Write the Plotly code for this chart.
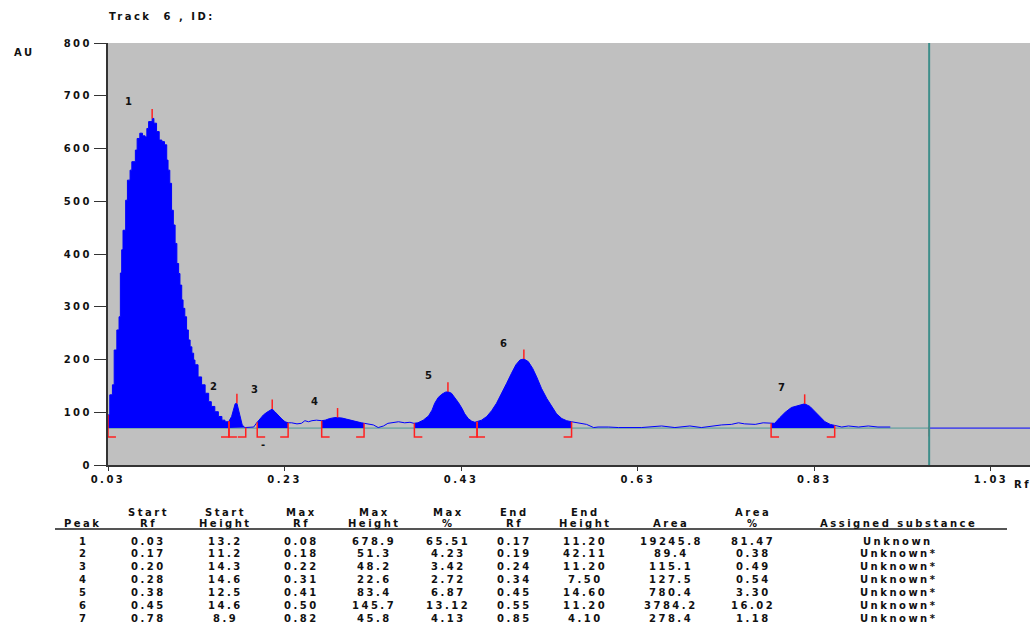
import numpy as np
import plotly.graph_objects as go

# ---------------------------------------------------------------------------
# Densitometric scan of track 6: position (Rf) vs. absorbance units (AU)
# ---------------------------------------------------------------------------
scan_rf = [
    0.030, 0.032, 0.035, 0.037, 0.040, 0.0425, 0.044, 0.0455, 0.047, 0.050,
    0.052, 0.055, 0.057, 0.061, 0.063, 0.066, 0.069, 0.072, 0.074, 0.076,
    0.080, 0.082, 0.085, 0.088, 0.091, 0.094, 0.0965, 0.098, 0.100, 0.102,
    0.104, 0.106, 0.108, 0.110, 0.1115, 0.1135, 0.115, 0.117, 0.119, 0.121,
    0.123, 0.125, 0.127, 0.1285, 0.132, 0.136, 0.140, 0.144, 0.147, 0.151,
    0.155, 0.159, 0.1625, 0.166,
    0.170, 0.172, 0.174, 0.176, 0.178, 0.180, 0.182, 0.185, 0.189, 0.195,
    0.198, 0.202, 0.206, 0.210, 0.2135, 0.216, 0.219, 0.223, 0.227, 0.2305, 0.234,
    0.238, 0.244, 0.249, 0.253, 0.257, 0.261, 0.266,
    0.272, 0.276, 0.281, 0.287, 0.290, 0.295, 0.300, 0.306, 0.312, 0.317, 0.320,
    0.325, 0.3305, 0.336, 0.342, 0.347, 0.353, 0.359, 0.366, 0.372,
    0.3765, 0.381, 0.387, 0.393, 0.397, 0.400, 0.404, 0.408, 0.412, 0.415,
    0.419, 0.423, 0.427, 0.431, 0.434, 0.438, 0.442, 0.4455,
    0.448, 0.453, 0.459, 0.4645, 0.470, 0.476, 0.4815, 0.487, 0.492, 0.4965,
    0.501, 0.506, 0.511, 0.5155, 0.521, 0.527, 0.5325, 0.538, 0.544, 0.5495, 0.555,
    0.5625, 0.572, 0.580, 0.585, 0.597, 0.608, 0.634, 0.657, 0.672, 0.689,
    0.702, 0.714, 0.725, 0.736, 0.744, 0.751, 0.763, 0.772, 0.780,
    0.785, 0.791, 0.797, 0.804, 0.812, 0.819, 0.825, 0.831, 0.836, 0.842, 0.848, 0.853,
    0.861, 0.8685, 0.880, 0.891, 0.902, 0.916,
]
scan_au = [
    95, 133, 152, 218, 256, 281, 364, 408, 445, 502,
    540, 559, 575, 597, 619, 629, 624, 622, 638, 651,
    657, 648, 632, 616, 613, 607, 578, 559, 534, 483,
    455, 420, 382, 363, 341, 313, 297, 281, 256, 237,
    224, 212, 199, 190, 167, 152, 136, 120, 111, 101,
    92, 85, 82, 80,
    92, 104, 116, 117, 101, 88, 76, 71, 71, 72,
    79, 87, 95, 100, 104, 106, 101, 93, 87, 82, 80,
    80, 78, 79, 84, 82, 84, 85,
    84, 85, 88, 90, 90, 89, 87, 84, 82, 80, 79,
    78, 76, 71, 74, 79, 80, 82, 80, 81,
    79, 80, 85, 93, 104, 117, 128, 134, 138, 139,
    136, 128, 118, 107, 97, 88, 83, 81,
    82, 85, 92, 103, 117, 136, 155, 174, 190, 199,
    201, 196, 183, 167, 145, 126, 111, 97, 88, 84, 82,
    80, 77, 71, 72, 72, 71, 71, 74, 71, 74,
    71, 74, 76, 77, 80, 78, 77, 80, 79,
    79, 90, 100, 109, 112, 116, 111, 101, 92, 82, 77, 75,
    72, 74, 72, 74, 72, 72,
]

BASELINE_AU = 70      # integration baseline
FRONT_RF = 0.96       # solvent front position
RF_MAX = 1.0742       # right end of the scanned range
STEP_UNTIL_RF = 0.167 # main peak is drawn as a stepped histogram

# integration limits and apex positions marked on the scan
mark_start_rf = [0.030, 0.167, 0.199, 0.272, 0.377, 0.448, 0.781]
mark_max_rf = [0.080, 0.176, 0.216, 0.290, 0.415, 0.501, 0.819]
mark_end_rf = [0.167, 0.186, 0.234, 0.320, 0.448, 0.555, 0.853]

# ---------------------------------------------------------------------------
# Peak report
# ---------------------------------------------------------------------------
peak_no = [1, 2, 3, 4, 5, 6, 7]
start_rf = [0.03, 0.17, 0.20, 0.28, 0.38, 0.45, 0.78]
start_height = [13.2, 11.2, 14.3, 14.6, 12.5, 14.6, 8.9]
max_rf = [0.08, 0.18, 0.22, 0.31, 0.41, 0.50, 0.82]
max_height = [678.9, 51.3, 48.2, 22.6, 83.4, 145.7, 45.8]
max_pct = [65.51, 4.23, 3.42, 2.72, 6.87, 13.12, 4.13]
end_rf = [0.17, 0.19, 0.24, 0.34, 0.45, 0.55, 0.85]
end_height = [11.20, 42.11, 11.20, 7.50, 14.60, 11.20, 4.10]
area = [19245.8, 89.4, 115.1, 127.5, 780.4, 3784.2, 278.4]
area_pct = [81.47, 0.38, 0.49, 0.54, 3.30, 16.02, 1.18]
substance = ["Unknown", "Unknown*", "Unknown*", "Unknown*",
             "Unknown*", "Unknown*", "Unknown*"]

y_ticks = [0, 100, 200, 300, 400, 500, 600, 700, 800]
x_ticks = [0.03, 0.23, 0.43, 0.63, 0.83, 1.03]

# ---------------------------------------------------------------------------
# Page geometry / styling
# ---------------------------------------------------------------------------
W, H = 1031, 623
L, R, T, B = 108, 1, 43, 158
PW, PH = W - L - R, H - T - B

FONT = "DejaVu Sans"
TXT = "#111111"
BLUE = "#0000FF"
RED = "#FF2020"
TEAL = "#4E9A96"


def px(x):
    return (x - L) / PW


def py(y):
    return (H - B - y) / PH


def spaced(s, sp=2.5, bold=True):
    body = f"<b>{s}</b>" if bold else s
    return f'<span style="letter-spacing:{sp}px">{body}</span>'


rf = np.array(scan_rf)
au = np.array(scan_au, dtype=float)


def curve_at(r):
    return float(np.interp(r, rf, au))


fig = go.Figure()

# filled peak areas above the baseline
for s, e in zip(mark_start_rf, mark_end_rf):
    m = (rf > s) & (rf < e)
    xs = [s] + rf[m].tolist() + [e, e, s]
    ys = [curve_at(s)] + au[m].tolist() + [curve_at(e), BASELINE_AU, BASELINE_AU]
    shape = "hv" if e <= STEP_UNTIL_RF else "linear"
    fig.add_trace(go.Scatter(
        x=xs, y=ys, mode="lines", fill="toself", fillcolor=BLUE,
        line=dict(width=0, shape=shape), hoverinfo="skip"))

# scan trace: stepped over the main peak, plain polyline elsewhere
step = rf <= STEP_UNTIL_RF
fig.add_trace(go.Scatter(
    x=rf[step], y=au[step], mode="lines",
    line=dict(color=BLUE, width=1, shape="hv"), hoverinfo="skip"))
tail = rf >= rf[step][-1]
fig.add_trace(go.Scatter(
    x=rf[tail], y=au[tail], mode="lines",
    line=dict(color=BLUE, width=1), hoverinfo="skip"))

# red integration markers
mx, my = [], []
drop = BASELINE_AU - 17
foot = 0.009
for s in mark_start_rf:
    mx += [s, s, s + foot, None]
    my += [curve_at(s), drop, drop, None]
for e in mark_end_rf:
    mx += [e, e, e - foot, None]
    my += [curve_at(e), drop, drop, None]
for a in mark_max_rf:
    top = curve_at(a)
    mx += [a, a, None]
    my += [top, top + 18, None]
mx += [FRONT_RF, FRONT_RF, None]
my += [BASELINE_AU + 3, BASELINE_AU - 16, None]
fig.add_trace(go.Scatter(x=mx, y=my, mode="lines",
                         line=dict(color=RED, width=1.5), hoverinfo="skip"))

shapes = [
    # baseline up to the front, scan line beyond it
    dict(type="line", xref="x", yref="y", x0=0.03, x1=FRONT_RF,
         y0=BASELINE_AU, y1=BASELINE_AU, line=dict(color=TEAL, width=1), layer="below"),
    dict(type="line", xref="x", yref="y", x0=FRONT_RF, x1=RF_MAX,
         y0=BASELINE_AU, y1=BASELINE_AU, line=dict(color=BLUE, width=1)),
    # solvent front
    dict(type="line", xref="x", yref="paper", x0=FRONT_RF, x1=FRONT_RF,
         y0=0, y1=1, line=dict(color="#3E8E8A", width=2)),
    # table header rule
    dict(type="line", xref="paper", yref="paper", x0=px(55), x1=px(1007),
         y0=py(529), y1=py(529), line=dict(color="#555555", width=2)),
]

annotations = []


def text(x, y, s, size=10, anchor="center", sp=2.5, color=TXT):
    annotations.append(dict(
        xref="paper", yref="paper", x=px(x), y=py(y), text=spaced(s, sp),
        showarrow=False, xanchor=anchor, yanchor="middle",
        font=dict(family=FONT, size=size, color=color)))


text(107, 17, "Track  6 , ID:", anchor="left")
text(12, 52, "AU", anchor="left")
text(1012, 484, "Rf", anchor="left")

# peak numbers above the scan
peak_label_px = [(128, 101), (213, 386), (254, 389), (314, 401),
                 (428, 375), (503, 343), (781, 387)]
for n, (x, y) in zip(peak_no, peak_label_px):
    text(x, y, str(n), sp=0)
text(263, 444, "-", sp=0)

# report table
col_x = [83, 148, 225, 301, 374, 448, 514, 585, 671, 753, 898]
head_top = ["", "Start", "Start", "Max", "Max", "Max", "End", "End", "", "Area", ""]
head_bot = ["Peak", "Rf", "Height", "Rf", "Height", "%", "Rf", "Height",
            "Area", "%", "Assigned substance"]
for x, t1, t2 in zip(col_x, head_top, head_bot):
    if t1:
        text(x, 512, t1)
    text(x, 523, t2)

row_y = [541, 553.5, 566, 579, 592, 605, 618]
for i, y in enumerate(row_y):
    cells = [
        str(peak_no[i]), f"{start_rf[i]:.2f}", f"{start_height[i]:.1f}",
        f"{max_rf[i]:.2f}", f"{max_height[i]:.1f}", f"{max_pct[i]:.2f}",
        f"{end_rf[i]:.2f}", f"{end_height[i]:.2f}", f"{area[i]:.1f}",
        f"{area_pct[i]:.2f}", substance[i],
    ]
    for x, c in zip(col_x, cells):
        text(x, y, c)

axis_common = dict(showgrid=False, zeroline=False, showline=True,
                   linecolor="#333333", linewidth=2, ticks="outside",
                   tickcolor="#333333",
                   tickfont=dict(family=FONT, size=10, color=TXT))

fig.update_layout(
    width=W, height=H,
    margin=dict(l=L, r=R, t=T, b=B, pad=0),
    paper_bgcolor="white", plot_bgcolor="#C0C0C0",
    showlegend=False,
    xaxis=dict(range=[0.03, RF_MAX], tickvals=x_ticks,
               ticktext=[spaced(f"{v:.2f}") for v in x_ticks],
               ticklen=4, **axis_common),
    yaxis=dict(range=[0, 800], tickvals=y_ticks,
               ticktext=[spaced(str(v)) for v in y_ticks],
               ticklen=12, **axis_common),
    shapes=shapes,
    annotations=annotations,
)

fig.write_html("out.html")
